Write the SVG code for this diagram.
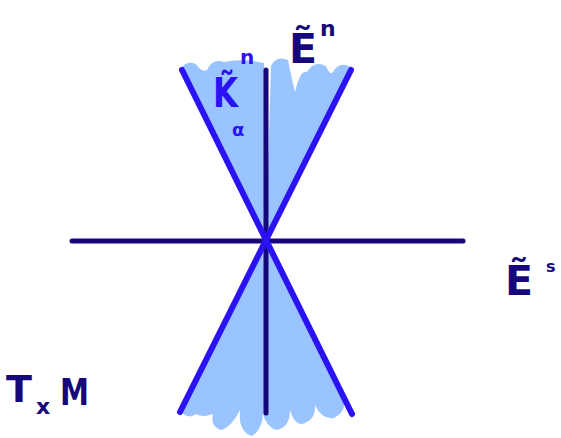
<svg xmlns="http://www.w3.org/2000/svg" width="561" height="438" viewBox="0 0 561 438">
<style>
.fill{fill:#99c4ff;stroke:none}
.axis{stroke:#16087a;stroke-width:5;stroke-linecap:round;fill:none}
.cone{stroke:#2a12f5;stroke-width:6;stroke-linecap:round;fill:none}
.lab{font-family:"DejaVu Sans","Liberation Sans",sans-serif;font-weight:bold;fill:#16087a}
.labk{font-family:"DejaVu Sans","Liberation Sans",sans-serif;font-weight:bold;fill:#2a12f5}
</style>
<rect width="561" height="438" fill="#fff"/>
<g id="cone-fill">
<path class="fill" d="M266,241 L181,69 Q186,60 196,64 Q202,73 207,70 Q212,58 224,62 Q240,58 264,63 L266,241 Z"/>
<path class="fill" d="M266,241 L271,66 Q276,55 288,60 Q292,80 295,92 Q300,70 307,72 Q314,60 326,66 Q330,76 333,72 Q340,60 352,68 Z"/>
<path class="fill" d="M266,241 L180,411 Q188,420 196,414 Q202,418 213,414 Q210,428 222,430 Q232,426 240,410 Q238,432 252,436 Q262,430 263,414 Q266,426 276,430 Q290,428 290,410 Q294,424 302,424 Q316,420 315,405 Q322,420 334,418 Q346,412 344,400 Z"/>
</g>
<g id="connectors">
<line class="axis" x1="72" y1="241" x2="463" y2="241"/>
<line class="axis" x1="266" y1="70" x2="266" y2="413"/>
<line class="cone" x1="182" y1="70" x2="352" y2="414"/>
<line class="cone" x1="351" y1="70" x2="180" y2="412"/>
</g>
<g id="label-En">
<text class="lab" x="289" y="63" font-size="40" textLength="28" lengthAdjust="spacingAndGlyphs">Ẽ</text>
<text class="lab" x="320" y="36" font-size="22">n</text>
</g>
<g id="label-K">
<text class="labk" x="213" y="107" font-size="40" textLength="25" lengthAdjust="spacingAndGlyphs">K̃</text>
<text class="labk" x="240" y="64" font-size="20">n</text>
<text class="labk" x="232" y="136" font-size="18">α</text>
</g>
<g id="label-Es">
<text class="lab" x="505" y="295" font-size="40" textLength="28" lengthAdjust="spacingAndGlyphs">Ẽ</text>
<text class="lab" x="546" y="272" font-size="16">s</text>
</g>
<g id="label-TxM">
<text class="lab" x="6" y="402" font-size="38">T</text>
<text class="lab" x="36" y="414" font-size="22">x</text>
<text class="lab" x="60" y="405" font-size="38" textLength="29" lengthAdjust="spacingAndGlyphs">M</text>
</g>
</svg>
